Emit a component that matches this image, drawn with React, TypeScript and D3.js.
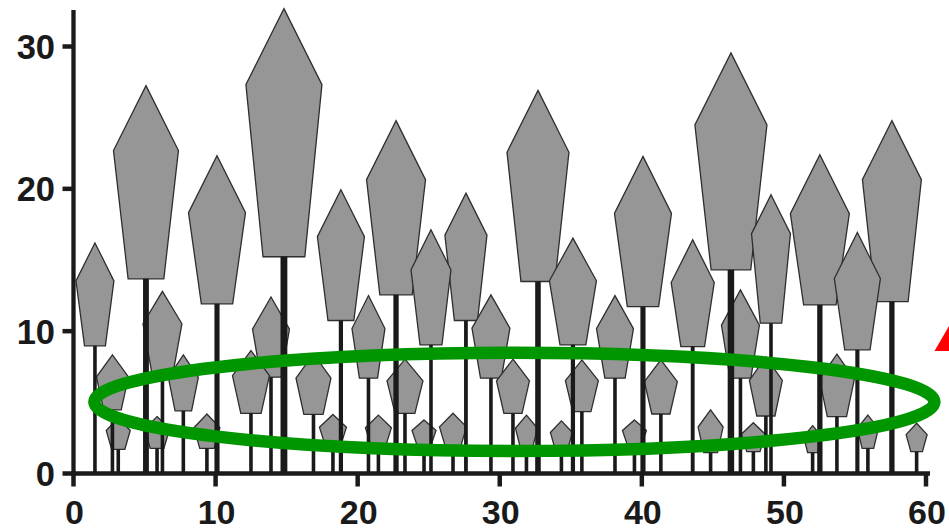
import React from "react";
import * as d3 from "d3";

// ---- data (x position, stem top = shape base, shape peak, shape width in x units) ----
const positions = [
  1.51, 5.1, 10.1, 14.81, 18.82, 22.7, 25.16, 27.62, 32.69, 35.15, 40.08, 43.58, 46.27, 49.09, 52.53, 55.17, 57.6,
  2.74, 6.26, 7.73, 12.49, 13.9, 16.89, 20.76, 23.33, 29.38, 30.93, 35.78, 38.11, 41.34, 46.94, 48.73, 53.73,
  3.15, 5.88, 9.39, 18.26, 21.46, 24.67, 26.71, 31.88, 34.34, 39.48, 44.84, 47.85, 52.02, 55.91, 59.34,
];
const stemTops = [
  8.97, 13.68, 11.92, 15.23, 10.75, 12.55, 9.04, 10.75, 13.49, 9.04, 11.73, 8.92, 14.31, 10.56, 11.85, 8.69, 12.08,
  4.47, 7.1, 4.4, 4.23, 6.77, 4.15, 6.7, 4.23, 6.7, 4.23, 4.35, 6.7, 4.18, 6.7, 4.04, 4.0,
  1.7, 1.77, 1.77, 1.9, 1.9, 1.9, 1.84, 1.8, 1.65, 1.9, 1.46, 1.53, 1.46, 1.77, 1.53,
];
const peaks = [
  16.2, 27.25, 22.33, 32.66, 19.94, 24.79, 17.12, 19.7, 26.92, 16.54, 22.28, 16.42, 29.55, 19.58, 22.4, 16.93, 24.79,
  8.33, 12.8, 8.33, 8.64, 12.4, 8.4, 12.5, 8.03, 12.55, 8.03, 7.98, 12.5, 7.98, 12.9, 8.2, 8.38,
  3.9, 4.0, 4.18, 4.15, 4.1, 3.76, 4.23, 4.1, 3.7, 3.76, 4.47, 3.57, 3.36, 4.1, 3.53,
];
const widths = [
  2.67, 4.57, 4.01, 5.35, 3.31, 4.15, 2.81, 2.96, 4.36, 3.31, 4.01, 3.03, 5.07, 2.74, 4.15, 3.24, 4.15,
  2.25, 2.74, 2.11, 2.6, 2.6, 2.46, 2.32, 2.53, 2.67, 2.32, 2.32, 2.6, 2.32, 2.67, 2.32, 2.46,
  1.69, 1.76, 1.83, 1.9, 1.83, 1.69, 1.9, 1.55, 1.55, 1.69, 1.76, 1.69, 1.27, 1.48, 1.48,
];
const xTicks = [0, 10, 20, 30, 40, 50, 60];
const yTicks = [0, 10, 20, 30];
// annotation: ellipse centre (x, y) and radii in data units, red triangle corner
const ellipseCenter = [31.03, 5.03];
const ellipseRadii = [29.56, 3.45];
const triangleCorner = [60.6, 8.6];

const W = 949;
const H = 531;

export default function App() {
  const x = d3.scaleLinear().domain([0, 60]).range([73.5, 926]);
  const y = d3.scaleLinear().domain([0, 30]).range([473.5, 46.5]);
  const unitX = x(1) - x(0);
  const unitY = y(0) - y(1);
  const yMax = y.invert(10);

  const items = positions.map((p, i) => ({
    x: p,
    base: stemTops[i],
    top: peaks[i],
    w: widths[i],
  }));
  // tallest shapes drawn first, shorter ones on top
  const order = items.slice().sort((a, b) => b.top - a.top);

  const shapePath = (d: any) => {
    const cx = x(d.x);
    const wpx = d.w * unitX;
    const yb = y(d.base);
    const yt = y(d.top);
    const h = yb - yt;
    const sh = Math.min(wpx, 0.4 * h);
    const bw = 0.275 * wpx;
    const pts: [number, number][] = [
      [cx, yt],
      [cx + wpx / 2, yt + sh],
      [cx + bw, yb],
      [cx - bw, yb],
      [cx - wpx / 2, yt + sh],
    ];
    return d3.line()(pts) + "Z";
  };

  const ink = "#1a1a1a";
  const font = "'Liberation Sans', Arial, sans-serif";

  const tc = [x(triangleCorner[0]), y(triangleCorner[1])];
  const side = 40;
  const triPts: [number, number][] = [
    [tc[0], tc[1]],
    [tc[0] + side / 2, tc[1] - side * Math.sqrt(3) / 2],
    [tc[0] + side, tc[1]],
  ];

  return (
    <svg
      width={W}
      height={H}
      viewBox={`0 0 ${W} ${H}`}
      style={{ position: "absolute", left: 0, top: 0, background: "#fff" }}
    >
      {/* shapes */}
      <g>
        {order.map((d, i) => (
          <path key={i} d={shapePath(d)} fill="#969696" stroke="#2e2e2e" strokeWidth={1.3} strokeLinejoin="miter" />
        ))}
      </g>
      {/* stems */}
      <g>
        {items.map((d, i) => (
          <line
            key={i}
            x1={x(d.x)}
            x2={x(d.x)}
            y1={y(0)}
            y2={y(d.base)}
            stroke={ink}
            strokeWidth={Math.max(3.6, 0.09 * d.w * unitX)}
          />
        ))}
      </g>
      {/* axes */}
      <g>
        <line x1={x(0)} x2={x(0)} y1={y(0) + 2} y2={y(yMax)} stroke={ink} strokeWidth={4.3} />
        <line x1={x(0) - 2} x2={x(60) + 4} y1={y(0)} y2={y(0)} stroke={ink} strokeWidth={4.3} />
        {yTicks.map((t) => (
          <g key={"y" + t}>
            <line x1={x(0) - 11} x2={x(0)} y1={y(t)} y2={y(t)} stroke={ink} strokeWidth={4.5} />
            <text
              x={55}
              y={y(t) + 12.6}
              textAnchor="end"
              fontFamily={font}
              fontWeight="bold"
              fontSize={34.5}
              fill={ink}
            >
              {t}
            </text>
          </g>
        ))}
        {xTicks.map((t) => (
          <g key={"x" + t}>
            <line x1={x(t)} x2={x(t)} y1={y(0)} y2={y(0) + 13} stroke={ink} strokeWidth={4.5} />
            <text
              x={x(t) + 1}
              y={523.5}
              textAnchor="middle"
              fontFamily={font}
              fontWeight="bold"
              fontSize={34}
              fill={ink}
            >
              {t}
            </text>
          </g>
        ))}
      </g>
      {/* annotations */}
      <ellipse
        cx={x(ellipseCenter[0])}
        cy={y(ellipseCenter[1])}
        rx={ellipseRadii[0] * unitX}
        ry={ellipseRadii[1] * unitY}
        fill="none"
        stroke="#009600"
        strokeWidth={12.5}
      />
      <polygon points={triPts.map((p) => p.join(",")).join(" ")} fill="#ff0000" />
    </svg>
  );
}
